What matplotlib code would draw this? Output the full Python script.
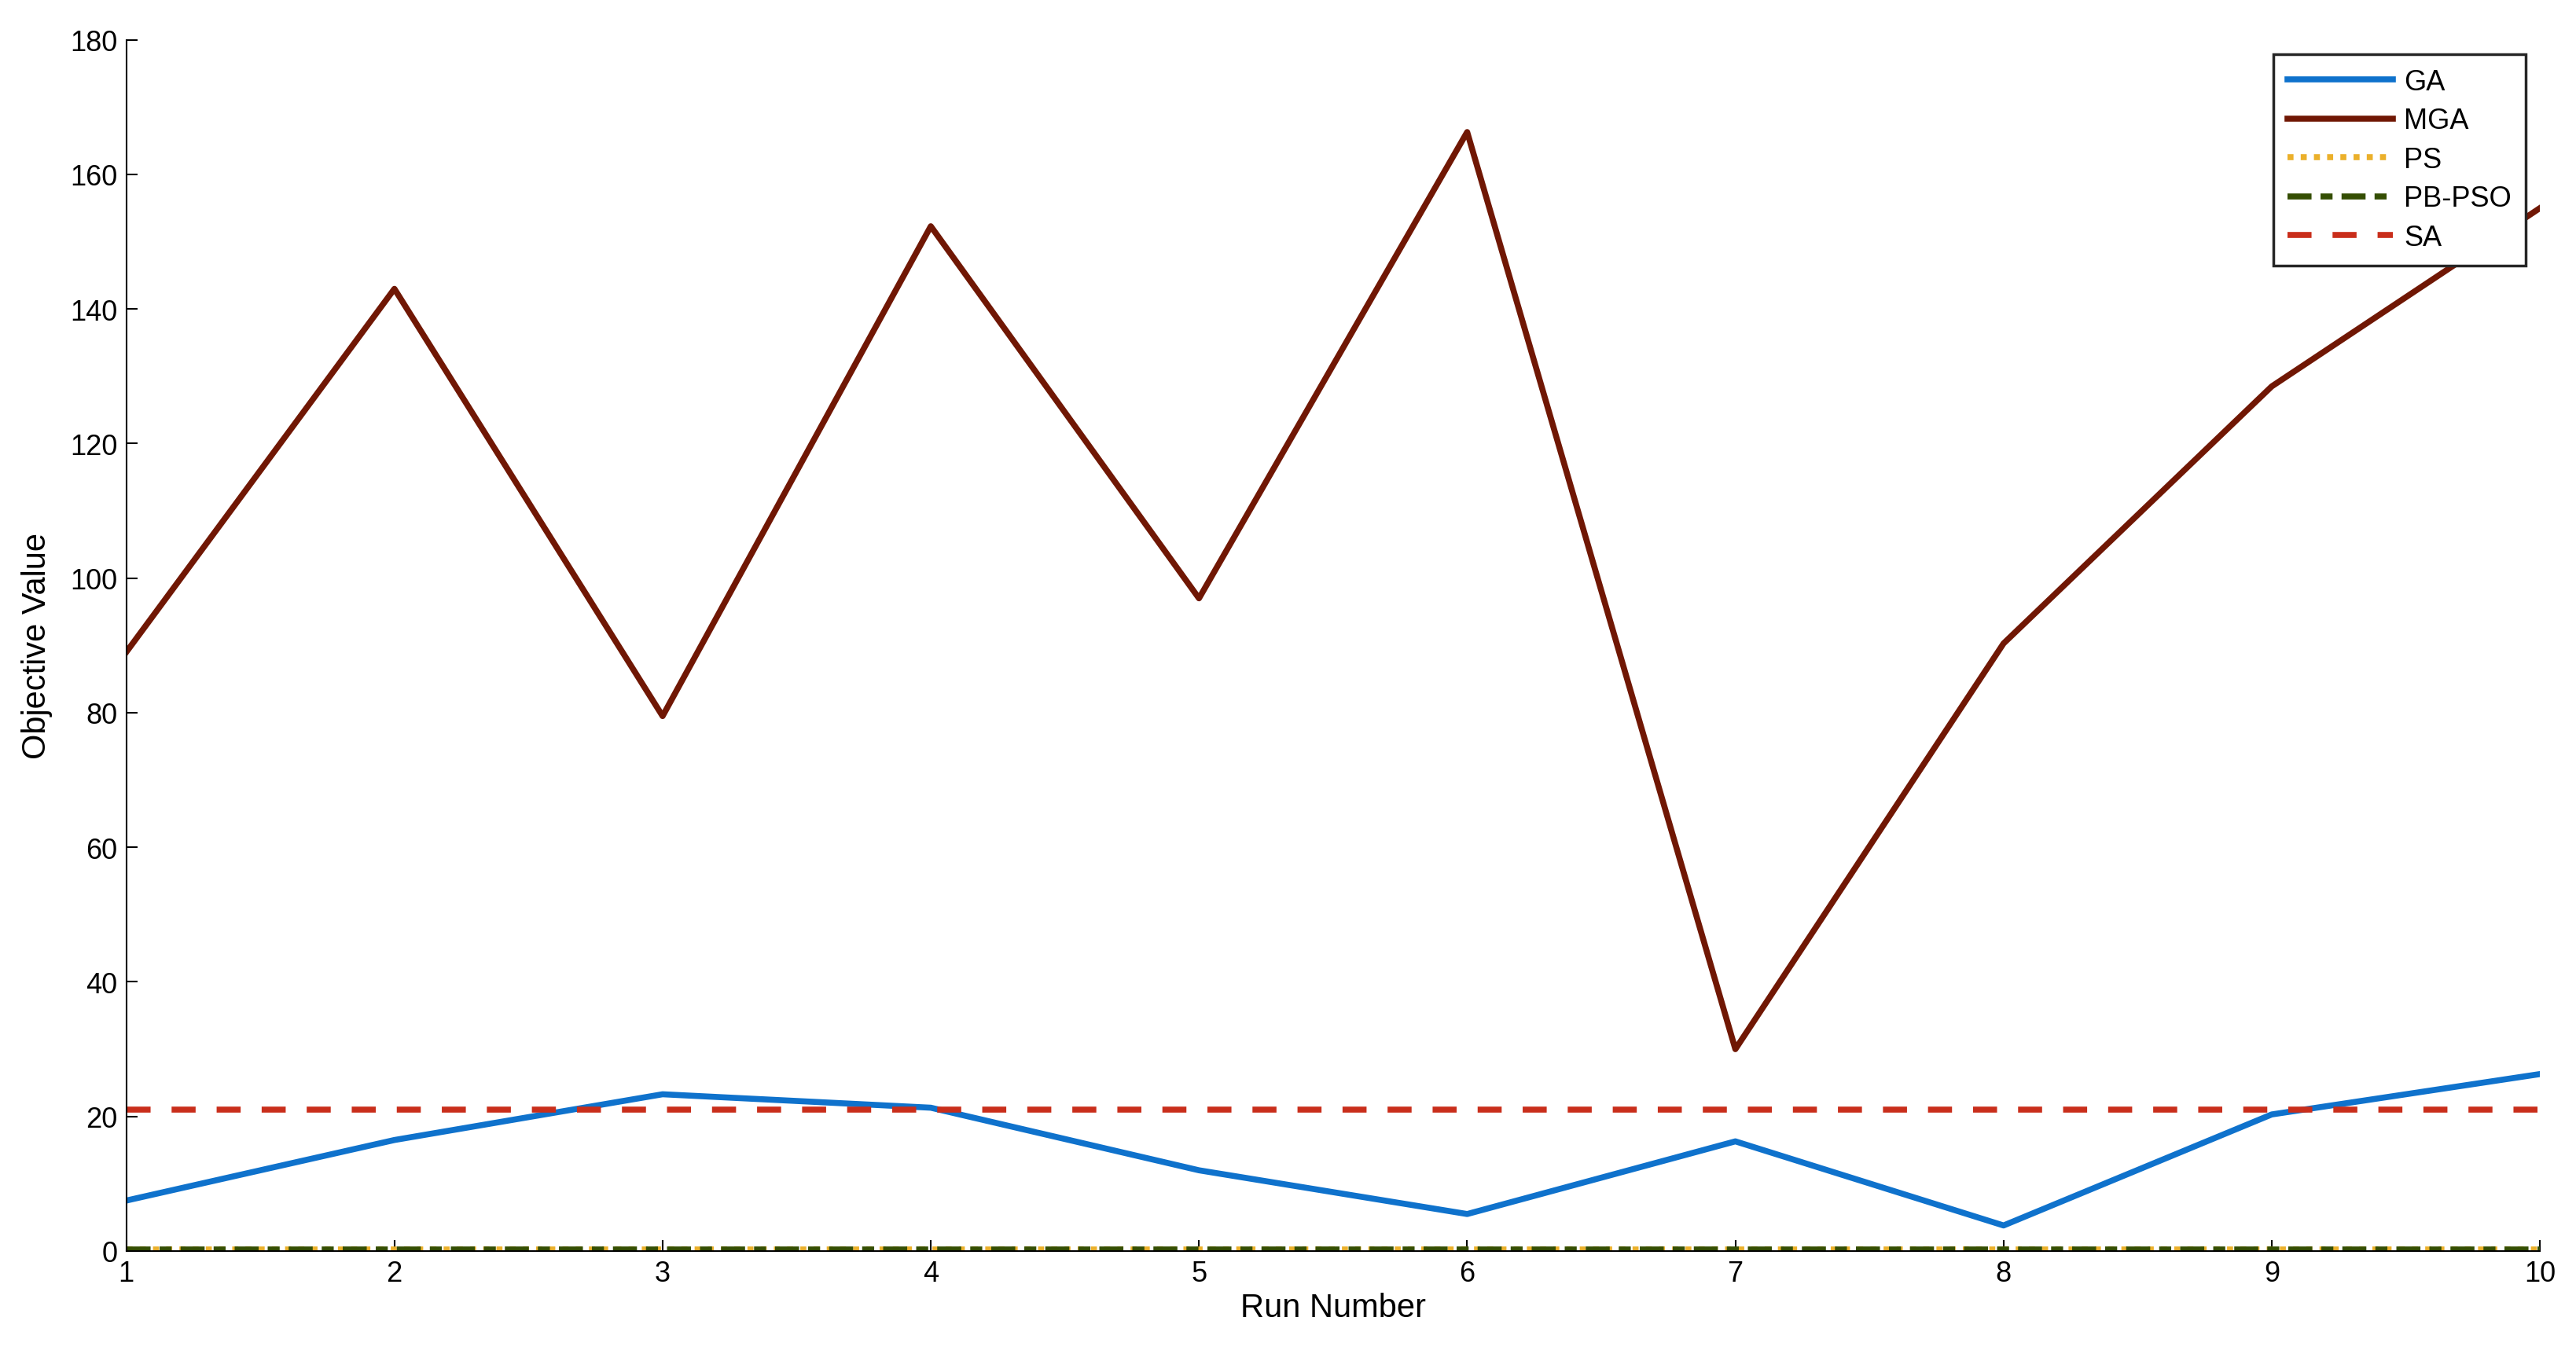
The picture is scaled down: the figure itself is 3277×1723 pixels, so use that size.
import matplotlib
matplotlib.use("Agg")
import matplotlib.pyplot as plt

runs = list(range(1, 11))
ga = [7.5, 16.5, 23.3, 21.3, 12.0, 5.5, 16.3, 3.8, 20.3, 26.3]
mga = [89.0, 143.0, 79.5, 152.3, 97.0, 166.3, 30.0, 90.3, 128.5, 155.0]
ps = [0.2] * 10
pbpso = [0.2] * 10
sa = [21.0] * 10

plt.rcParams['font.family'] = ['Liberation Sans', 'DejaVu Sans']
fig = plt.figure(figsize=(32.77, 17.24), dpi=100)
ax = fig.add_axes([0.049, 0.076, 0.941 - 0.004, 0.894])
lw = 5.5
ax.plot(runs, ga, color='#0f72cc', lw=lw, label='GA')
ax.plot(runs, mga, color='#701704', lw=lw, label='MGA')
ax.plot(runs, ps, color='#ebb02b', lw=lw, ls=(0, (1, 1.2)), label='PS')
ax.plot(runs, pbpso, color='#344e03', lw=lw, ls=(0, (4, 1.5, 2, 1.5)), label='PB-PSO')
ax.plot(runs, sa, color='#c92e1b', lw=lw, ls=(0, (4, 3.5)), label='SA')
ax.set_xlim(1, 10)
ax.set_ylim(0, 180)
ax.set_xticks(runs)
ax.set_yticks(range(0, 181, 20))
ax.tick_params(labelsize=26, direction='in', length=10, width=1.5, pad=8)
for s in ['top', 'right']:
    ax.spines[s].set_visible(False)
for s in ['left', 'bottom']:
    ax.spines[s].set_linewidth(1.5)
ax.set_xlabel('Run Number', fontsize=30, labelpad=4)
ax.set_ylabel('Objective Value', fontsize=30, labelpad=16)
leg = ax.legend(loc='upper right', fontsize=26, frameon=True, fancybox=False,
                edgecolor='#262626', borderpad=0.5, labelspacing=0.4,
                handlelength=3.7, handletextpad=0.4, bbox_to_anchor=(1.0, 1.0))
leg.get_frame().set_linewidth(2.5)
leg.get_frame().set_alpha(1)
fig.savefig('out.png', dpi=100)
